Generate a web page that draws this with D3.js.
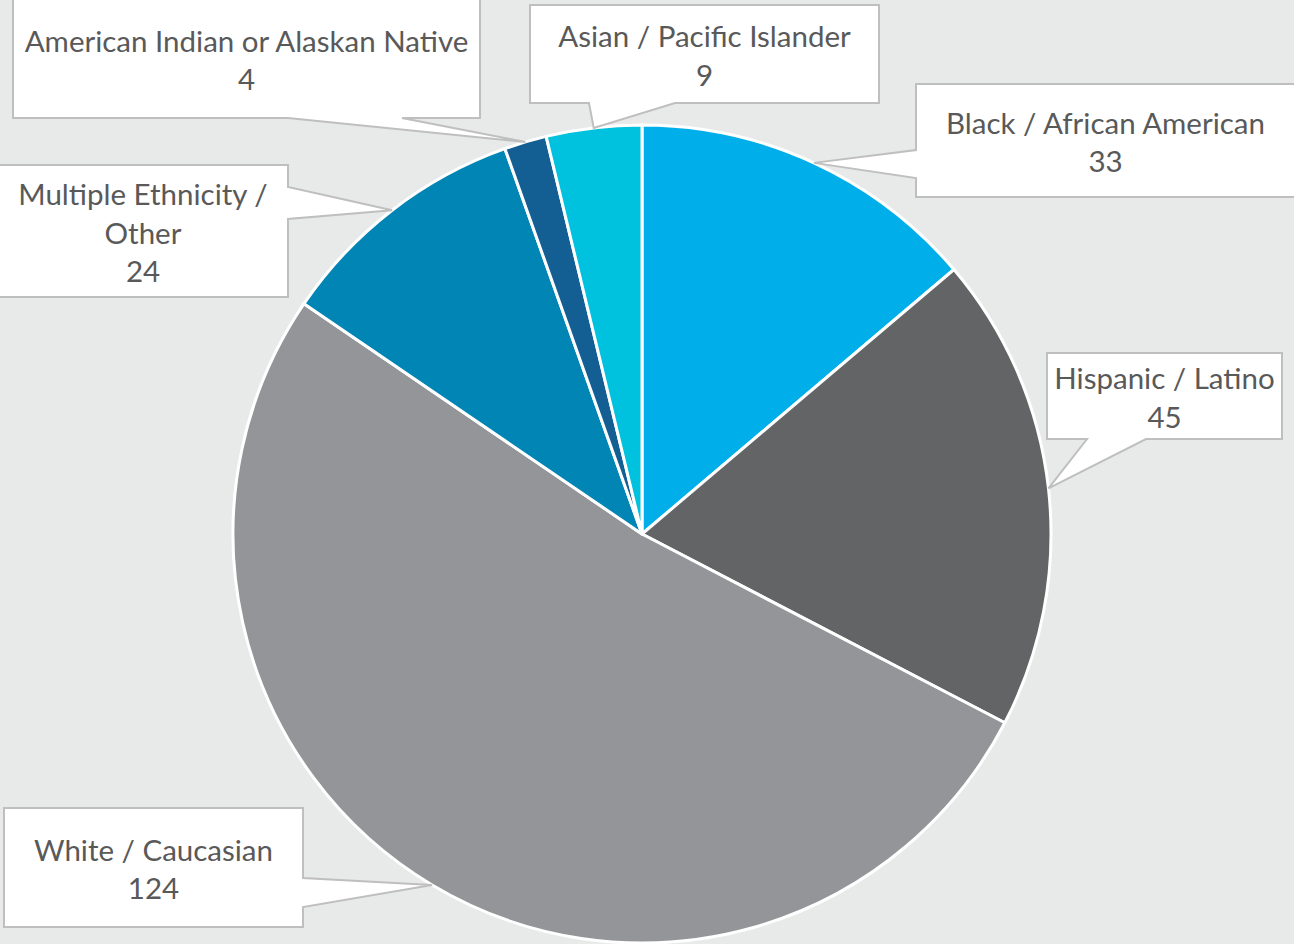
<!DOCTYPE html>
<html>
<head>
<meta charset="utf-8">
<script src="https://cdn.jsdelivr.net/npm/d3@7"></script>
<style>
	body { margin: 0; background: #e8e9e9; }
	svg { display: block; }
	.label { font-family: Lato, "Open Sans", sans-serif; font-size: 29.5px; fill: #595959; }
</style>
</head>
<body>
<div class="container"></div>
<script>
const WIDTH = 1294
	, HEIGHT = 944
	, CX = 642
	, CY = 534
	, RADIUS = 409
	, LINE_HEIGHT = 38.5;

// data, clockwise from 12 o'clock
var categories = ["Black / African American", "Hispanic / Latino", "White / Caucasian",
	"Multiple Ethnicity / Other", "American Indian or Alaskan Native", "Asian / Pacific Islander"];
var values = [33, 45, 124, 24, 4, 9];
var labelLines = [
	["Black / African American"],
	["Hispanic / Latino"],
	["White / Caucasian"],
	["Multiple Ethnicity /", "Other"],
	["American Indian or Alaskan Native"],
	["Asian / Pacific Islander"]
];
var colors = ["#00aeea", "#636466", "#939598", "#0085b5", "#135f94", "#00c2df"];

// callout boxes: x, y, w, h, side of pointer, pointer base (a, b)
var boxes = [
	{x: 916, y: 84, w: 379, h: 113, side: "left", a: 150, b: 178},
	{x: 1047, y: 353, w: 235, h: 86, side: "bottom", a: 1087, b: 1146},
	{x: 4, y: 808, w: 299, h: 119, side: "right", a: 878, b: 907},
	{x: -2, y: 165, w: 290, h: 132, side: "right", a: 187, b: 219},
	{x: 13, y: -1, w: 467, h: 119, side: "bottom", a: 288, b: 402},
	{x: 530, y: 5, w: 349, h: 98, side: "bottom", a: 589, b: 675}
];

var calloutPath = function (box, tip) {
	var x = box.x, y = box.y, r = box.x + box.w, btm = box.y + box.h;
	var t = tip[0] + "," + tip[1];
	if (box.side == "bottom") {
		return "M" + x + "," + y + "H" + r + "V" + btm + "H" + box.b + "L" + t + "L" + box.a + "," + btm + "H" + x + "Z";
	} else if (box.side == "left") {
		return "M" + x + "," + y + "H" + r + "V" + btm + "H" + x + "V" + box.b + "L" + t + "L" + x + "," + box.a + "Z";
	}
	return "M" + x + "," + y + "H" + r + "V" + box.a + "L" + t + "L" + r + "," + box.b + "V" + btm + "H" + x + "Z";
};

var svg = d3.select('.container').append('svg')
	.attr('width', WIDTH)
	.attr('height', HEIGHT);

var pie = d3.pie().sort(null).value(function (d) { return d; });
var arcs = pie(values);

var arc = d3.arc().innerRadius(0).outerRadius(RADIUS);
var edgeArc = d3.arc().innerRadius(RADIUS).outerRadius(RADIUS);

var g = svg.append('g').attr('transform', 'translate(' + CX + ',' + CY + ')');
g.selectAll('path.slice').data(arcs)
	.enter().append('path')
	.classed('slice', true)
	.attr('d', arc)
	.attr('fill', function (d, i) { return colors[i]; })
	.attr('stroke', '#ffffff')
	.attr('stroke-width', 3)
	.attr('stroke-linejoin', 'round');

var callouts = svg.selectAll('g.callout').data(arcs)
	.enter().append('g')
	.classed('callout', true);

callouts.append('path')
	.attr('d', function (d, i) {
		var c = edgeArc.centroid(d);
		return calloutPath(boxes[i], [c[0] + CX, c[1] + CY]);
	})
	.attr('fill', '#ffffff')
	.attr('stroke', '#bfbfbf')
	.attr('stroke-width', 2);

callouts.append('text')
	.classed('label', true)
	.attr('text-anchor', 'middle')
	.each(function (d, i) {
		var box = boxes[i];
		var lines = labelLines[i].concat([String(values[i])]);
		var cx = box.x + box.w / 2;
		var cy = box.y + box.h / 2;
		var first = cy - (lines.length - 1) * LINE_HEIGHT / 2 + 12.5;
		var t = d3.select(this);
		lines.forEach(function (line, k) {
			t.append('tspan')
				.attr('x', cx)
				.attr('y', first + k * LINE_HEIGHT)
				.text(line);
		});
	});
</script>
</body>
</html>
